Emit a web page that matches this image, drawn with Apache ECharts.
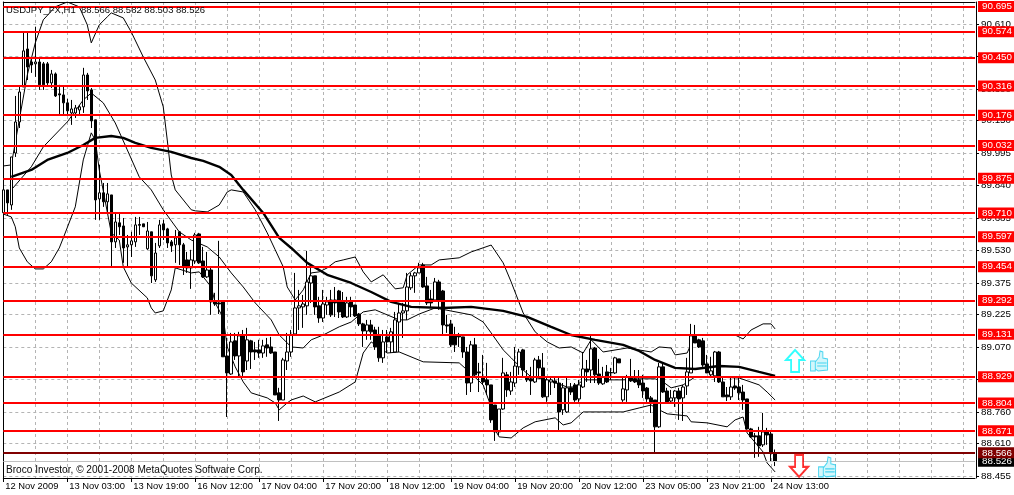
<!DOCTYPE html>
<html><head><meta charset="utf-8">
<style>html,body{margin:0;padding:0;background:#fff}#c{width:1014px;height:495px}</style>
<script src="https://cdn.jsdelivr.net/npm/echarts@6/dist/echarts.min.js"></script>
</head><body><div id="c"></div>
<script>
const BAR_COUNT = 244;
const xTickEvery = 16;
const xTickLabels = ['12 Nov 2009','13 Nov 03:00','13 Nov 19:00','16 Nov 12:00','17 Nov 04:00','17 Nov 20:00','18 Nov 12:00','19 Nov 04:00','19 Nov 20:00','20 Nov 12:00','23 Nov 05:00','23 Nov 21:00','24 Nov 13:00'];
const yTicks = [90.610,90.455,90.300,90.150,89.995,89.840,89.685,89.530,89.375,89.225,89.070,88.915,88.760,88.610,88.455];
const redLevels = [90.695,90.574,90.450,90.316,90.176,90.032,89.875,89.710,89.597,89.454,89.292,89.131,88.929,88.804,88.671];
const bidLevel = 88.566;
const lastLevel = 88.526;
const arrowUp = [[198,89.004]];
const arrowDown = [[199,88.504]];
const thumbs = [[204,89.004],[206,88.499]];
// open, close, low, high
const candles = [
[89.711,89.820,89.701,89.820],[89.820,89.758,89.701,89.820],[89.748,89.977,89.725,89.977],[89.996,90.144,89.977,90.268],
[90.144,90.287,90.115,90.311],[90.311,90.483,90.311,90.569],[90.492,90.406,90.344,90.573],[90.430,90.416,90.378,90.449],
[90.421,90.430,90.359,90.597],[90.430,90.321,90.297,90.449],[90.421,90.321,90.297,90.430],[90.421,90.330,90.316,90.430],
[90.330,90.373,90.306,90.392],[90.373,90.268,90.263,90.380],[90.278,90.273,90.182,90.321],[90.273,90.235,90.182,90.311],
[90.235,90.197,90.178,90.254],[90.187,90.206,90.130,90.249],[90.187,90.211,90.163,90.225],[90.201,90.216,90.178,90.225],
[90.216,90.368,90.187,90.402],[90.368,90.292,90.249,90.378],[90.297,90.149,90.115,90.306],[90.154,89.772,89.677,90.154],
[89.777,89.806,89.677,89.939],[89.806,89.763,89.739,89.853],[89.763,89.801,89.715,89.853],[89.796,89.572,89.448,89.796],
[89.572,89.667,89.543,89.710],[89.663,89.644,89.605,89.710],[89.648,89.543,89.472,89.686],[89.548,89.558,89.453,89.605],
[89.558,89.577,89.500,89.620],[89.572,89.653,89.548,89.691],[89.655,89.651,89.605,89.691],[89.658,89.644,89.644,89.658],
[89.539,89.624,89.534,89.667],[89.620,89.410,89.376,89.620],[89.391,89.519,89.381,89.567],[89.553,89.653,89.543,89.677],
[89.658,89.629,89.581,89.677],[89.634,89.567,89.543,89.639],[89.572,89.553,89.524,89.581],[89.558,89.591,89.472,89.629],
[89.620,89.558,89.462,89.624],[89.558,89.453,89.414,89.567],[89.486,89.448,89.424,89.524],[89.448,89.486,89.348,89.534],
[89.481,89.605,89.467,89.615],[89.610,89.472,89.467,89.615],[89.481,89.405,89.400,89.548],[89.405,89.438,89.400,89.524],
[89.438,89.286,89.224,89.448],[89.286,89.276,89.267,89.329],[89.281,89.276,89.228,89.577],[89.286,89.024,89.024,89.286],
[89.028,88.947,88.737,89.114],[88.942,89.095,88.938,89.138],[89.100,89.028,89.009,89.138],[89.028,89.124,88.928,89.143],
[89.124,88.952,88.928,89.152],[89.004,89.105,88.961,89.162],[89.100,89.047,88.966,89.105],[89.057,89.047,89.009,89.095],
[89.057,89.042,89.019,89.105],[89.042,89.076,89.019,89.105],[89.081,89.066,89.024,89.114],[89.071,89.042,89.038,89.119],
[89.047,88.842,88.842,89.047],[88.852,88.818,88.718,88.876],[88.818,89.009,88.818,89.019],[89.004,89.047,88.961,89.138],
[89.047,89.128,89.024,89.152],[89.133,89.257,89.128,89.424],[89.257,89.267,89.152,89.343],[89.262,89.276,89.162,89.319],
[89.267,89.381,89.224,89.529],[89.376,89.410,89.281,89.457],[89.410,89.262,89.224,89.410],[89.267,89.209,89.186,89.310],
[89.209,89.276,89.190,89.343],[89.271,89.286,89.224,89.310],[89.295,89.224,89.214,89.343],[89.295,89.281,89.214,89.357],
[89.338,89.238,89.209,89.343],[89.286,89.214,89.209,89.333],[89.214,89.281,89.209,89.310],[89.286,89.262,89.214,89.310],
[89.271,89.219,89.214,89.271],[89.228,89.181,89.171,89.233],[89.181,89.147,89.071,89.186],[89.147,89.176,89.105,89.200],
[89.176,89.143,89.105,89.200],[89.152,89.071,89.057,89.167],[89.128,89.019,89.000,89.167],[89.019,89.095,88.995,89.152],
[89.119,89.095,89.042,89.152],[89.095,89.143,89.042,89.162],[89.047,89.200,89.047,89.238],[89.190,89.233,89.047,89.281],
[89.233,89.243,89.114,89.281],[89.243,89.357,89.200,89.424],[89.353,89.410,89.343,89.424],[89.410,89.424,89.329,89.429],
[89.424,89.448,89.424,89.472],[89.462,89.357,89.353,89.472],[89.362,89.281,89.271,89.405],[89.300,89.281,89.262,89.343],
[89.295,89.381,89.286,89.400],[89.381,89.295,89.248,89.391],[89.338,89.176,89.128,89.343],[89.176,89.171,89.138,89.224],
[89.181,89.081,89.071,89.200],[89.128,89.081,89.047,89.167],[89.124,89.119,89.071,89.138],[89.119,89.047,89.019,89.119],
[89.047,88.899,88.842,89.071],[88.899,89.081,88.856,89.100],[89.081,88.938,88.928,89.114],[88.952,88.947,88.856,88.995],
[88.923,88.904,88.890,89.033],[88.914,88.890,88.842,88.995],[88.890,88.723,88.709,88.890],[88.794,88.666,88.623,88.794],
[88.666,88.775,88.651,88.775],[88.775,88.947,88.771,89.019],[88.938,88.866,88.833,88.952],[88.861,88.904,88.842,88.952],
[88.899,88.980,88.880,89.071],[88.976,89.047,88.938,89.062],[89.057,88.961,88.928,89.062],[88.928,88.914,88.904,88.961],
[88.919,88.909,88.842,88.976],[88.904,89.009,88.899,89.019],[89.009,88.971,88.923,89.028],[88.971,88.833,88.828,89.042],
[88.833,88.914,88.809,88.928],[88.904,88.914,88.842,88.923],[88.909,88.899,88.875,88.928],[88.899,88.761,88.675,88.923],
[88.771,88.876,88.747,88.899],[88.761,88.876,88.756,88.923],[88.876,88.856,88.842,88.899],[88.890,88.818,88.809,88.899],
[88.823,88.890,88.809,88.914],[88.880,88.966,88.875,89.047],[88.966,88.952,88.904,89.009],[88.961,89.062,88.899,89.124],
[89.066,88.938,88.899,89.071],[88.942,88.899,88.890,89.014],[88.895,88.928,88.890,88.976],[88.952,88.904,88.899,88.985],
[88.949,88.947,88.914,88.971],[88.947,89.019,88.942,89.024],[89.014,88.995,88.995,89.014],[88.818,88.871,88.809,88.928],
[88.866,88.928,88.809,88.938],[88.928,88.909,88.904,89.014],[88.919,88.904,88.899,88.961],[88.914,88.890,88.875,88.961],
[88.899,88.861,88.828,88.938],[88.875,88.823,88.809,88.880],[88.828,88.809,88.756,88.837],[88.818,88.690,88.561,88.818],
[88.690,88.976,88.685,88.995],[88.976,88.856,88.852,88.995],[88.861,88.809,88.804,88.876],[88.813,88.828,88.804,88.866],
[88.828,88.861,88.785,88.866],[88.861,88.823,88.723,88.876],[88.828,88.880,88.718,88.890],[88.885,88.952,88.842,89.019],
[88.947,89.124,88.947,89.181],[89.124,89.090,89.090,89.176],[89.105,89.071,89.066,89.110],[89.100,88.985,88.976,89.114],
[88.990,88.947,88.947,89.033],[88.938,88.957,88.928,89.024],[88.933,89.047,88.904,89.052],[89.047,88.904,88.899,89.052],
[88.904,88.833,88.833,88.928],[88.842,88.833,88.813,88.880],[88.833,88.880,88.818,88.928],[88.885,88.875,88.866,88.923],
[88.880,88.852,88.818,88.923],[88.856,88.818,88.771,88.890],[88.823,88.680,88.680,88.823],[88.680,88.642,88.637,88.685],
[88.647,88.642,88.542,88.661],[88.647,88.599,88.547,88.690],[88.604,88.666,88.594,88.756],[88.666,88.651,88.604,88.685],
[88.656,88.566,88.523,88.675],[88.566,88.526,88.503,88.582]
];
const bandUpper = [[0,89.934],[2,89.939],[4,90.154],[6,90.368],[8,90.521],[10,90.631],[13,90.693],[16,90.716],[19,90.693],[21,90.607],[22,90.521],[24,90.607],[26,90.645],[27,90.664],[30,90.640],[32,90.573],[35,90.454],[38,90.344],[40,90.216],[41,90.058],[42,89.891],[43,89.820],[47,89.725],[48,89.720],[51,89.715],[54,89.748],[56,89.810],[57,89.820],[60,89.810],[63,89.725],[66,89.615],[68,89.534],[70,89.453],[71,89.357],[73,89.295],[75,89.343],[77,89.424],[79,89.429],[81,89.448],[83,89.477],[85,89.486],[88,89.500],[90,89.429],[92,89.381],[95,89.415],[98,89.348],[100,89.353],[101,89.415],[104,89.462],[107,89.462],[109,89.486],[114,89.496],[117,89.524],[122,89.557],[125,89.472],[127,89.381],[130,89.233],[133,89.143],[136,89.095],[139,89.066],[142,89.071],[145,89.042],[147,89.105],[150,89.047],[156,89.066],[162,89.047],[164,89.071],[167,89.066],[168,89.033],[171,89.042],[173,89.128],[177,89.128],[183,89.128],[185,89.109],[187,89.152],[190,89.181],[192,89.181],[193,89.157]];
const bandMiddle = [[2,89.820],[7,89.930],[10,90.025],[16,90.144],[20,90.249],[22,90.282],[25,90.235],[28,90.139],[31,90.011],[34,89.882],[37,89.820],[40,89.725],[44,89.620],[47,89.581],[51,89.548],[54,89.500],[57,89.424],[60,89.357],[63,89.281],[67,89.200],[69,89.128],[72,89.071],[75,89.066],[77,89.105],[80,89.128],[84,89.167],[87,89.190],[90,89.238],[93,89.248],[96,89.224],[99,89.200],[101,89.200],[104,89.228],[108,89.257],[117,89.224],[120,89.190],[122,89.138],[125,89.057],[127,89.019],[130,88.961],[132,88.928],[136,88.914],[141,88.880],[143,88.880],[145,88.914],[149,88.914],[155,88.914],[159,88.919],[163,88.919],[165,88.904],[167,88.876],[170,88.890],[173,88.928],[177,88.928],[184,88.923],[189,88.890],[191,88.856],[193,88.818]];
const bandLower = [[0,89.705],[2,89.691],[3,89.644],[4,89.543],[6,89.477],[8,89.443],[10,89.443],[12,89.477],[14,89.543],[15,89.591],[18,89.739],[20,89.963],[22,90.092],[23,90.058],[24,89.915],[27,89.615],[29,89.581],[30,89.453],[32,89.376],[36,89.305],[37,89.257],[38,89.233],[40,89.243],[42,89.343],[43,89.448],[47,89.424],[49,89.429],[50,89.405],[52,89.357],[53,89.281],[55,89.209],[56,89.071],[58,88.976],[60,88.904],[62,88.852],[66,88.828],[68,88.804],[69,88.771],[71,88.804],[72,88.818],[75,88.837],[78,88.809],[84,88.856],[88,88.904],[90,89.042],[92,89.095],[96,89.042],[99,89.047],[105,89.000],[114,88.995],[116,88.961],[120,88.890],[122,88.785],[123,88.675],[124,88.642],[127,88.637],[130,88.685],[133,88.714],[138,88.733],[140,88.699],[142,88.709],[145,88.761],[149,88.761],[155,88.761],[159,88.780],[162,88.794],[164,88.771],[166,88.752],[171,88.742],[172,88.714],[176,88.709],[181,88.690],[183,88.723],[185,88.737],[186,88.661],[190,88.570],[191,88.518],[193,88.475]];
const movingAverage = [[2,89.882],[7,89.915],[11,89.963],[16,89.996],[20,90.034],[23,90.068],[27,90.077],[30,90.068],[33,90.044],[37,90.020],[42,90.001],[47,89.972],[50,89.958],[54,89.930],[57,89.891],[60,89.820],[65,89.710],[69,89.591],[72,89.543],[76,89.472],[81,89.415],[87,89.376],[92,89.333],[97,89.286],[102,89.262],[110,89.257],[117,89.262],[125,89.243],[131,89.214],[137,89.167],[142,89.128],[148,89.105],[155,89.081],[159,89.052],[163,89.009],[168,88.971],[173,88.966],[179,88.980],[184,88.976],[189,88.952],[193,88.933]];

const categories = Array.from({length: BAR_COUNT}, (_, i) => (i % xTickEvery === 0 && xTickLabels[i / xTickEvery]) || '');
const FONT = 'Liberation Sans';
const FS = 9.4;
const Y_MIN = 88.446, Y_MAX = 90.716;
const ARROW_UP = 'path://M9 0L18 10L13 10L13 22L5 22L5 10L0 10Z';
const ARROW_DOWN = 'path://M5 0L13 0L13 12L18 12L9 22L0 12L5 12Z';
const THUMB = 'path://M0 10L5 10L5 20L0 20ZM5 11L9 6L10 0L13 1L13 7L18 8L18 19L8 20L5 18ZM7 12L17 12M7 15L17 15';

const levelLine = (v, color, width, bg) => ({
  yAxis: v,
  lineStyle: {color, width, type: 'solid'},
  label: {show: true, position: 'end', distance: 3, formatter: () => v.toFixed(3), color: '#fff',
    backgroundColor: bg, padding: [1, 4, 0, 4], fontFamily: FONT, fontSize: FS + 0.4, lineHeight: 10}
});
const thinLine = (name, data) => ({name, type: 'line', data, showSymbol: false, symbol: 'none', z: 3,
  lineStyle: {color: '#000', width: 1}, silent: true});

const chart = echarts.init(document.getElementById('c'), null, {renderer: 'canvas'});
chart.setOption({
  animation: false,
  backgroundColor: '#fff',
  title: [
    {text: 'USDJPY_FX,H1  88.566 88.582 88.503 88.526', left: 1, top: 0, textStyle: {fontFamily: FONT, fontSize: FS + 0.1, fontWeight: 'normal', color: '#0a0a0a'}, z: 10},
    {text: 'Broco Investor, © 2001-2008 MetaQuotes Software Corp.', left: 1, top: 460, textStyle: {fontFamily: FONT, fontSize: 10.1, fontWeight: 'normal', color: '#0a0a0a'}, z: 10}
  ],
  grid: {left: 3.3, right: 38.7, top: 2, bottom: 17, show: false},
  xAxis: [{
    type: 'category', data: categories, boundaryGap: false, position: 'bottom',
    axisLine: {show: true, lineStyle: {color: '#000', width: 1}},
    axisTick: {show: true, length: 4, interval: i => i % xTickEvery === 0 && !!categories[i], lineStyle: {color: '#000'}},
    axisLabel: {interval: i => !!categories[i], align: 'left', margin: 4, padding: [0, 0, 0, 2], color: '#000', fontFamily: FONT, fontSize: FS, hideOverlap: false},
    splitLine: {show: true, interval: 7, lineStyle: {color: '#b4b4b4', type: [3, 3], width: 1}}
  }, {
    type: 'category', data: categories, boundaryGap: false, position: 'top',
    axisLine: {show: true, lineStyle: {color: '#000', width: 1}},
    axisTick: {show: false}, axisLabel: {show: false}, splitLine: {show: false}
  }],
  yAxis: [{
    type: 'value', min: Y_MIN, max: Y_MAX, position: 'right', offset: 1, scale: true,
    axisLine: {show: true, lineStyle: {color: '#000', width: 1}},
    axisTick: {show: true, length: 3, customValues: yTicks, lineStyle: {color: '#000'}},
    axisLabel: {customValues: yTicks, margin: 5, formatter: v => v.toFixed(3), color: '#000', fontFamily: FONT, fontSize: FS + 0.4},
    splitLine: {show: true, lineStyle: {color: '#b4b4b4', type: [3, 3], width: 1}}
  }, {
    type: 'value', min: Y_MIN, max: Y_MAX, position: 'left',
    axisLine: {show: true, lineStyle: {color: '#000', width: 1}},
    axisTick: {show: false}, axisLabel: {show: false}, splitLine: {show: false}
  }],
  series: [
    thinLine('upper', bandUpper),
    thinLine('middle', bandMiddle),
    thinLine('lower', bandLower),
    {name: 'USDJPY', type: 'candlestick', data: candles, barWidth: 3, z: 4, silent: true,
      itemStyle: {color: '#fff', color0: '#000', borderColor: '#000', borderColor0: '#000', borderWidth: 1}},
    {name: 'ma', type: 'line', data: movingAverage, showSymbol: false, symbol: 'none', z: 5, silent: true,
      lineStyle: {color: '#000', width: 2.4}},
    {name: 'levels', type: 'line', data: [], z: 6, silent: true,
      markLine: {silent: true, symbol: 'none', precision: 3, animation: false, z: 6,
        data: [...redLevels.map(v => levelLine(v, '#ff0000', 2.2, '#ff0000')),
               levelLine(lastLevel, '#c0c0c0', 1, '#000'),
               levelLine(bidLevel, '#800000', 2.2, '#800000')]}},
    {name: 'up', type: 'scatter', data: arrowUp, symbol: ARROW_UP, symbolSize: [18, 22], z: 7, silent: true,
      itemStyle: {color: '#fff', borderColor: '#00ffff', borderWidth: 2}},
    {name: 'down', type: 'scatter', data: arrowDown, symbol: ARROW_DOWN, symbolSize: [18, 22], z: 7, silent: true,
      itemStyle: {color: '#fff', borderColor: '#ff0000', borderWidth: 2}},
    {name: 'thumbs', type: 'scatter', data: thumbs, symbol: THUMB, symbolSize: [17, 20], z: 7, silent: true,
      itemStyle: {color: '#c8f4fa', borderColor: '#22ccee', borderWidth: 1}}
  ]
});
</script></body></html>
